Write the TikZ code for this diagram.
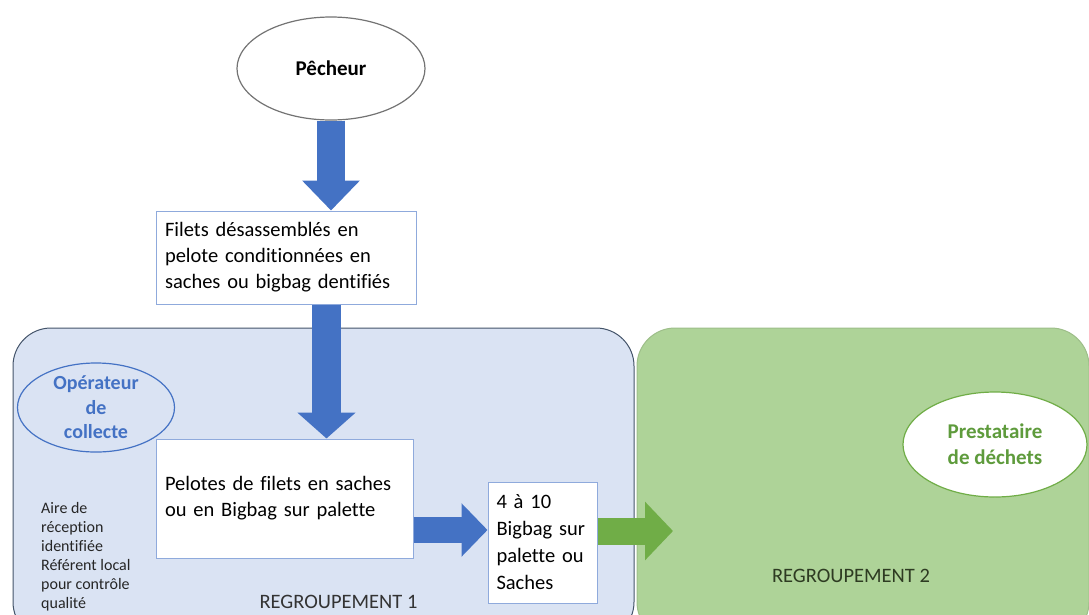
\documentclass[tikz,border=0pt]{standalone}
\usepackage{fontspec}
\setmainfont{Carlito}[Ligatures=NoCommon]
\usetikzlibrary{shapes.geometric,arrows.meta,calc}
\definecolor{bluearrow}{HTML}{4472C4}
\definecolor{greenarrow}{HTML}{70AD47}
\definecolor{reg1fill}{HTML}{DAE3F3}
\definecolor{reg1draw}{HTML}{44546A}
\definecolor{reg2fill}{HTML}{AED398}
\definecolor{boxdraw}{HTML}{8FAADC}
\definecolor{greentext}{HTML}{5E9B3C}
\definecolor{darkgreen}{HTML}{2E3B22}
\tikzset{
  x=1pt, y=-1pt,
  procbox/.style={draw=boxdraw, line width=1pt, fill=white, align=left, anchor=center, font=\fontsize{20.5}{26}\selectfont},
  region/.style={rounded corners=38pt, line width=1pt},
  actor/.style={ellipse, line width=1.2pt, inner sep=0pt, align=center, font=\bfseries\fontsize{21}{25}\selectfont},
  label/.style={font=\fontsize{20.5}{24}\selectfont},
}
\begin{document}
\begin{tikzpicture}
\useasboundingbox (0,0) rectangle (1089,614);
\clip (0,0) rectangle (1089,614);
% regions
\path[region, fill=reg1fill, draw=reg1draw] (13,328) rectangle (634,640);
\path[region, fill=reg2fill, draw=reg2fill!90!black] (637,328) rectangle (1089,640);
% nodes
\node[actor, draw=black!55, fill=white, minimum width=188, minimum height=103] (pech) at (331,68.5) {Pêcheur};
\node[procbox, minimum width=260, minimum height=93, text width=242] (b1) at (286,257.5) {Filets désassemblés en\\pelote conditionnées en\\saches ou bigbag dentifiés};
\node[procbox, minimum width=257, minimum height=119, text width=239] (b2) at (284.5,498.5) {Pelotes de filets en saches\\ou en Bigbag sur palette};
\node[procbox, minimum width=109, minimum height=121, text width=92, inner sep=0pt, font=\fontsize{20.5}{27}\selectfont] (b3) at (542.5,542.5) {4 à 10\\Bigbag sur\\palette ou\\Saches};
\node[actor, draw=bluearrow, fill=reg1fill, text=bluearrow, minimum width=157, minimum height=81, font=\bfseries\fontsize{20}{24.5}\selectfont] (op) at (96,407.5) {Opérateur\\de\\collecte};
\node[actor, draw=greenarrow, fill=white, text=greentext, minimum width=184, minimum height=105, font=\bfseries\fontsize{21}{26}\selectfont] (prest) at (995,444.5) {Prestataire\\de déchets};
\node[align=left, anchor=north west, inner sep=0pt, font=\fontsize{16}{19}\selectfont, text=black!85] (aire) at (41,502) {Aire de\\réception\\identifiée\\Référent local\\pour contrôle\\qualité};
\node[label, text=black!80] (r1) at (338.5,602) {REGROUPEMENT 1};
\node[label, text=darkgreen] (r2) at (851,576) {REGROUPEMENT 2};
\coordinate (gtip) at (673,531);
% arrows
\draw[draw=bluearrow, line width=28pt, -{Triangle[length=30pt,width=56pt]}] (pech.south) -- (pech.south |- b1.north);
\draw[draw=bluearrow, line width=29pt, -{Triangle[length=26pt,width=57pt]}] ([xshift=40.5pt]b1.south) -- ([xshift=40.5pt]b1.south |- b2.north);
\draw[draw=bluearrow, line width=26pt, -{Triangle[length=26pt,width=52pt]}] ([yshift=-31.5pt]b2.east) -- ([yshift=-31.5pt]b2.east -| b3.west);
\draw[draw=greenarrow, line width=27pt, -{Triangle[length=28pt,width=57pt]}] ([yshift=11.5pt]b3.east) -- (gtip);
\end{tikzpicture}
\end{document}
